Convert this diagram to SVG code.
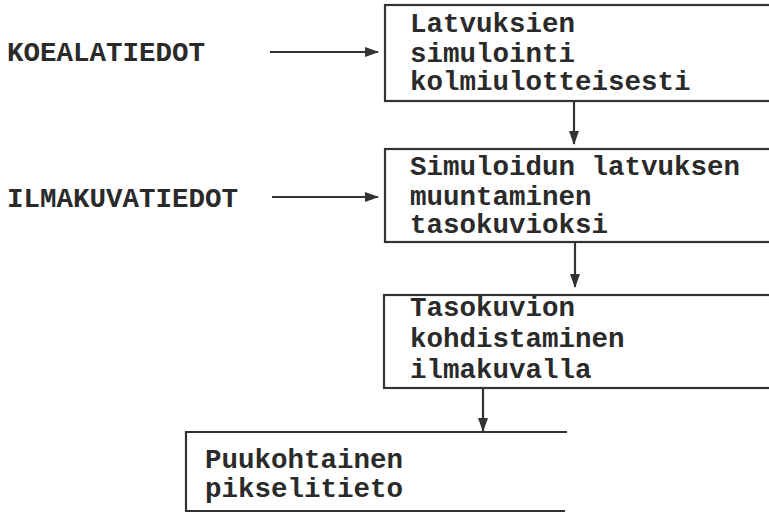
<svg xmlns="http://www.w3.org/2000/svg" width="769" height="513" viewBox="0 0 769 513">
<defs>
<style>
.t{font-family:"Liberation Mono","DejaVu Sans Mono",monospace;font-weight:bold;font-size:27.5px;fill:#2a2a2a}
.b{fill:none;stroke:#333;stroke-width:2.2}
.c{fill:none;stroke:#333;stroke-width:2.2}
</style>
<marker id="ah" markerWidth="14" markerHeight="10" refX="13" refY="5" orient="auto" markerUnits="userSpaceOnUse">
<path d="M0,0 L14,5 L0,10 Z" fill="#333"/>
</marker>
</defs>
<rect width="769" height="513" fill="#fff"/>
<g id="koealatiedot"><text class="t" x="7" y="61">KOEALATIEDOT</text></g>
<g id="ilmakuvatiedot"><text class="t" x="7" y="207">ILMAKUVATIEDOT</text></g>
<g id="box1">
<rect class="b" x="385" y="5" width="392" height="96"/>
<text class="t" x="410" y="32">Latvuksien</text>
<text class="t" x="410" y="62">simulointi</text>
<text class="t" x="410" y="90">kolmiulotteisesti</text>
</g>
<g id="box2">
<rect class="b" x="385" y="149" width="392" height="93"/>
<text class="t" x="410" y="175">Simuloidun latvuksen</text>
<text class="t" x="410" y="205">muuntaminen</text>
<text class="t" x="410" y="233">tasokuvioksi</text>
</g>
<g id="box3">
<rect class="b" x="384" y="295" width="393" height="93"/>
<text class="t" x="410" y="316">Tasokuvion</text>
<text class="t" x="410" y="347">kohdistaminen</text>
<text class="t" x="410" y="378">ilmakuvalla</text>
</g>
<g id="box4">
<path class="b" d="M567,432 H186 V511 H565"/>
<text class="t" x="205" y="468">Puukohtainen</text>
<text class="t" x="205" y="497">pikselitieto</text>
</g>
<g id="connectors">
<line class="c" x1="270" y1="52" x2="378" y2="52" marker-end="url(#ah)"/>
<line class="c" x1="272" y1="197" x2="378" y2="197" marker-end="url(#ah)"/>
<line class="c" x1="574" y1="101" x2="574" y2="144" marker-end="url(#ah)"/>
<line class="c" x1="575" y1="242" x2="575" y2="287" marker-end="url(#ah)"/>
<line class="c" x1="483" y1="388" x2="483" y2="431" marker-end="url(#ah)"/>
</g>
</svg>
